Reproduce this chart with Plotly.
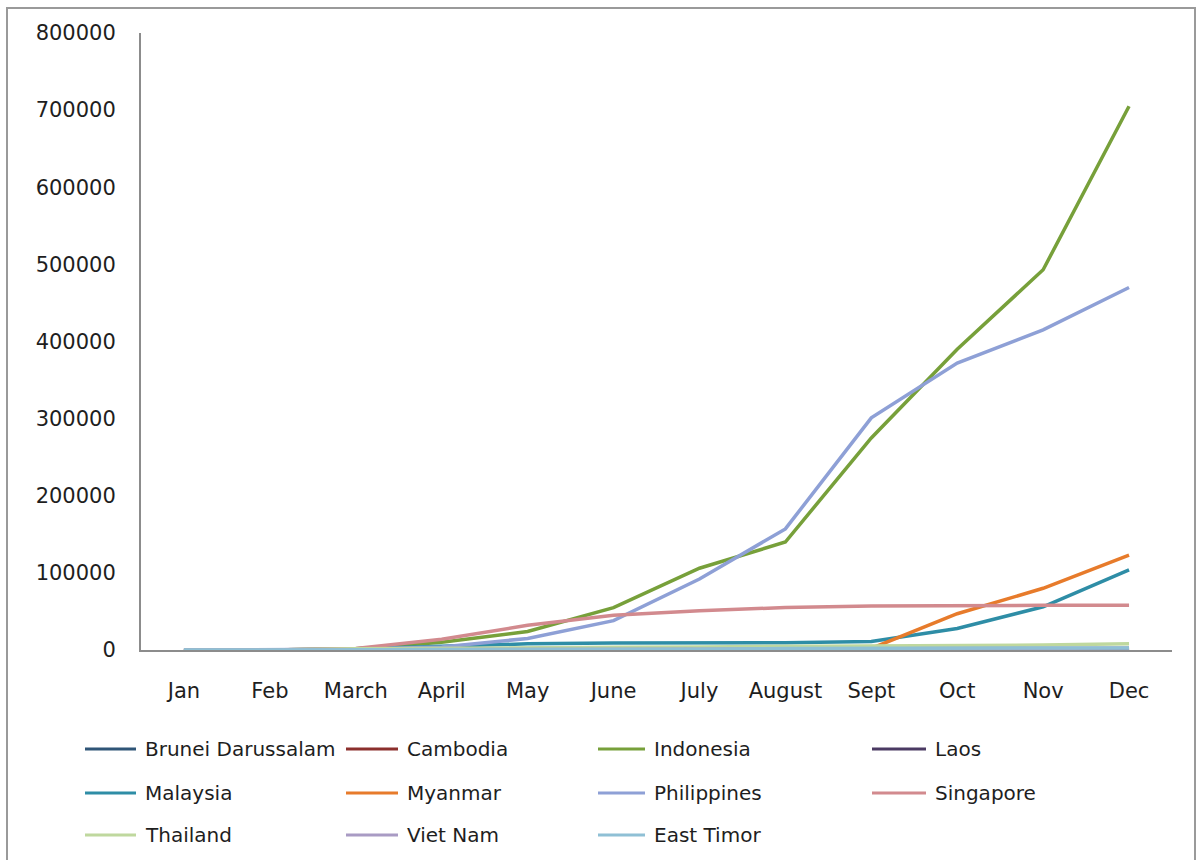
import plotly.graph_objects as go

# Monthly cumulative figures by country
months = ["Jan", "Feb", "March", "April", "May", "June", "July", "August",
          "Sept", "Oct", "Nov", "Dec"]

brunei = [0, 0, 50, 100, 130, 140, 140, 140, 140, 140, 140, 140]
cambodia = [0, 0, 20, 100, 150, 200, 250, 300, 300, 300, 300, 300]
indonesia = [0, 0, 1500, 10000, 24000, 55000, 106000, 140000, 275000, 390000, 493000, 705000]
laos = [0, 0, 0, 20, 20, 20, 20, 20, 20, 20, 20, 20]
malaysia = [0, 0, 1500, 5000, 8000, 9000, 9000, 9500, 11000, 28000, 56000, 104000]
myanmar = [0, 0, 0, 0, 0, 0, 0, 100, 2000, 47000, 80000, 123000]
philippines = [0, 0, 1000, 4000, 15000, 38000, 92000, 157000, 301000, 372000, 415000, 470000]
singapore = [0, 0, 2000, 14000, 32000, 45000, 51000, 55000, 57000, 58000, 58000, 58000]
thailand = [0, 0, 1500, 2500, 3000, 3500, 4000, 4500, 5000, 5500, 6500, 8000]
viet_nam = [0, 0, 50, 300, 500, 700, 1000, 1200, 1500, 1800, 2000, 2500]
east_timor = [0, 0, 0, 50, 100, 500, 1000, 2000, 2500, 2500, 2500, 2500]

series_names = ["Brunei Darussalam", "Cambodia", "Indonesia", "Laos",
                "Malaysia", "Myanmar", "Philippines", "Singapore",
                "Thailand", "Viet Nam", "East Timor"]
series_values = [brunei, cambodia, indonesia, laos, malaysia, myanmar,
                 philippines, singapore, thailand, viet_nam, east_timor]
series_colors = ["#2F5577", "#8B2F2C", "#77A03A", "#4B3A63", "#2E8DA6", "#E77B2B",
                 "#8EA0D6", "#D28A8E", "#BFD89E", "#A99BC4", "#8FC0D5"]

y_ticks = [0, 100000, 200000, 300000, 400000, 500000, 600000, 700000, 800000]

W, H = 1197, 860
L, R, T, B = 141, 25, 33, 210
PW, PH = W - L - R, H - T - B

FONT = "DejaVu Sans"
TEXT = "#1E1E1E"
AXIS = "#8C8C8C"


def px_x(p):
    return (p - L) / PW


def px_y(p):
    return (H - B - p) / PH


fig = go.Figure()
for name, vals, col in zip(series_names, series_values, series_colors):
    fig.add_trace(go.Scatter(x=months, y=vals, name=name, mode="lines",
                             line=dict(color=col, width=3.5),
                             showlegend=False))

# Legend drawn as a 4-column grid below the plot
col_line_x = [85, 346, 598, 872]
col_text_x = [143, 405, 652, 933]
row_y = [749, 793, 835]
shapes = []
annotations = []
for i, (name, col) in enumerate(zip(series_names, series_colors)):
    r, c = divmod(i, 4)
    shapes.append(dict(type="line", xref="paper", yref="paper",
                       x0=px_x(col_line_x[c]), x1=px_x(col_text_x[c] - 7),
                       y0=px_y(row_y[r]), y1=px_y(row_y[r]),
                       line=dict(color=col, width=3)))
    annotations.append(dict(text=name, xref="paper", yref="paper",
                            x=px_x(col_text_x[c]), y=px_y(row_y[r]),
                            xanchor="left", yanchor="middle", showarrow=False,
                            font=dict(family=FONT, size=20, color=TEXT)))

# Outer chart border
shapes.append(dict(type="rect", xref="paper", yref="paper",
                   x0=px_x(7), x1=px_x(1195), y0=px_y(875), y1=px_y(8),
                   line=dict(color="#9A9A9A", width=2), fillcolor="rgba(0,0,0,0)",
                   layer="below"))

fig.update_layout(
    width=W, height=H,
    margin=dict(l=L, r=R, t=T, b=B, pad=0),
    paper_bgcolor="white", plot_bgcolor="white",
    font=dict(family=FONT, size=20, color=TEXT),
    shapes=shapes, annotations=annotations,
    showlegend=False,
)
fig.update_xaxes(type="category", range=[-0.5, 11.5], showgrid=False,
                 showline=True, linecolor=AXIS, linewidth=2, ticks="",
                 ticklabelstandoff=21, tickfont=dict(family=FONT, size=21, color=TEXT),
                 zeroline=False)
fig.update_yaxes(range=[0, 800000], tickvals=y_ticks, ticktext=[str(v) for v in y_ticks],
                 showgrid=False, showline=True, linecolor=AXIS, linewidth=2,
                 ticks="", ticklabelstandoff=19, zeroline=False,
                 tickfont=dict(family=FONT, size=21, color=TEXT))

fig.write_html("out.html")
